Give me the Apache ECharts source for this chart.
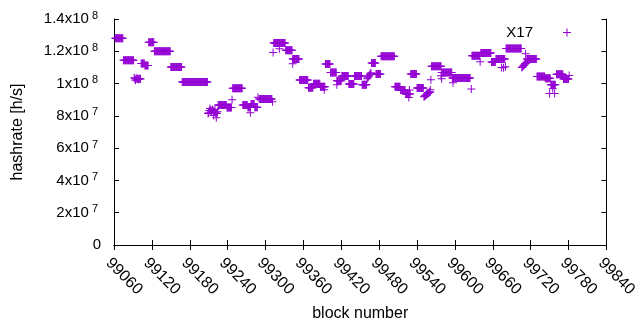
<!DOCTYPE html>
<html><head><meta charset="utf-8">
<script src="https://cdn.jsdelivr.net/npm/echarts@6/dist/echarts.min.js"></script>
<style>html,body{margin:0;padding:0;background:#fff}#c{width:640px;height:330px}</style>
</head><body><div id="c"></div>
<script>
const seriesName = 'X17';
const xMin = 99060, xMax = 99840, xStep = 60;
const yTickValues = [0, 2e7, 4e7, 6e7, 8e7, 1e8, 1.2e8, 1.4e8];
const yTickLabels = ['0', '2x10^7', '4x10^7', '6x10^7', '8x10^7', '1x10^8', '1.2x10^8', '1.4x10^8'];

// constant-difficulty runs: first block, last block, hashrate
const runStart = [99062,99075,99103,99109,99115,99124,99150,99168,99225,99239,99248,99264,99272,99277,99283,99290,99313,99332,99343,99354,99368,99376,99387,99395,99403,99413,99421,99432,99441,99453,99468,99475,99483,99505,99514,99522,99530,99540,99563,99579,99596,99627,99641,99658,99665,99681,99714,99730,99743,99752,99761,99772];
const runEnd   = [99074,99091,99108,99114,99123,99149,99167,99208,99238,99246,99263,99271,99276,99282,99287,99310,99331,99342,99353,99367,99375,99386,99394,99402,99412,99420,99431,99440,99452,99460,99474,99482,99504,99513,99521,99529,99539,99550,99578,99595,99624,99639,99657,99664,99679,99705,99729,99742,99751,99759,99771,99780];
const runValue = [1.281e8,1.145e8,1.124e8,1.112e8,1.256e8,1.200e8,1.102e8,1.010e8,8.68e7,8.51e7,9.71e7,8.68e7,8.54e7,8.74e7,8.54e7,9.05e7,1.252e8,1.207e8,1.152e8,1.022e8,9.74e7,9.99e7,9.81e7,1.121e8,1.069e8,1.018e8,1.047e8,9.97e7,1.047e8,9.93e7,1.127e8,1.059e8,1.170e8,9.81e7,9.60e7,9.36e7,1.059e8,9.73e7,1.108e8,1.069e8,1.034e8,1.172e8,1.189e8,1.133e8,1.152e8,1.218e8,1.152e8,1.044e8,1.033e8,9.93e7,1.057e8,1.028e8];

// stretches where the value changes block by block
const varStart = [99092, 99209, 99461, 99551, 99706];
const varValues = [
  [1.036e8,1.030e8,1.021e8,1.030e8,1.033e8,1.028e8,1.030e8,1.025e8,1.030e8,1.032e8,1.029e8],
  [8.14e7,8.20e7,8.33e7,8.45e7,8.33e7,8.26e7,8.33e7,8.40e7,8.33e7,8.02e7,8.26e7,8.39e7,8.20e7,7.89e7,8.14e7,8.26e7],
  [1.030e8,1.036e8,1.042e8,1.048e8,1.055e8,1.061e8,1.067e8],
  [9.19e7,9.21e7,9.26e7,9.28e7,9.30e7,9.35e7,9.38e7,9.40e7,9.45e7,9.46e7,9.50e7],
  [1.100e8,1.103e8,1.109e8,1.112e8,1.117e8,1.121e8,1.124e8,1.127e8]
];

// single scattered points
const extraBlock = [99247,99276,99288,99311,99312,99322,99343,99393,99413,99527,99528,99561,99562,99578,99579,99597,99626,99640,99674,99677,99680,99712,99750,99755,99758,99781];
const extraValue = [9.00e7,8.20e7,9.15e7,8.88e7,1.193e8,1.215e8,1.123e8,9.62e7,9.93e7,9.13e7,9.60e7,9.62e7,1.024e8,1.049e8,1.030e8,1.005e8,9.66e7,1.135e8,1.100e8,1.098e8,1.104e8,1.184e8,9.39e7,9.68e7,9.39e7,1.050e8];

const data = [];
runStart.forEach((s, i) => { for (let b = s; b <= runEnd[i]; b++) data.push([b, runValue[i]]); });
varStart.forEach((s, i) => { varValues[i].forEach((v, k) => data.push([s + k, v])); });
extraBlock.forEach((b, i) => data.push([b, extraValue[i]]));

const plus = 'path://M3.5,0h1v8h-1z M0,3.5h8v1h-8z';
const color = '#9400d3';
const font = 'Liberation Sans, Arial, sans-serif';

function yFmt(v) {
  const i = yTickValues.findIndex(t => Math.abs(t - v) < 1);
  if (i < 0) return '';
  const t = yTickLabels[i];
  if (t.indexOf('^') < 0) return '{z|' + t + '}';
  const p = t.split('^');
  return '{b|' + p[0] + '}{s|' + p[1] + '}';
}

const chart = echarts.init(document.getElementById('c'), null, {renderer: 'canvas'});
const axisLine = {show: true, lineStyle: {color: '#000', width: 1}};
const tick = {show: true, inside: true, length: 5, lineStyle: {color: '#000'}};
chart.setOption({
  animation: false,
  backgroundColor: '#fff',
  color: [color],
  grid: {left: 114, right: 31, top: 19, bottom: 85},
  legend: {
    right: 64, top: 20, orient: 'vertical', align: 'right',
    itemWidth: 58, itemHeight: 8,
    itemStyle: {color: color, borderWidth: 0},
    textStyle: {fontFamily: font, fontSize: 15, color: '#000'},
    data: [{name: seriesName, icon: plus}]
  },
  xAxis: [{
    type: 'value', min: xMin, max: xMax, interval: xStep,
    name: 'block number', nameLocation: 'middle', nameGap: 61,
    nameTextStyle: {fontFamily: font, fontSize: 16, color: '#000'},
    axisLine: axisLine, axisTick: tick, splitLine: {show: false},
    axisLabel: {rotate: -45, margin: 10, verticalAlign: 'top', showMinLabel: true, showMaxLabel: true,
      formatter: v => String(v),
      fontFamily: font, fontSize: 16, color: '#000'}
  }, {
    type: 'value', position: 'top', min: xMin, max: xMax, interval: xStep,
    axisLine: axisLine, axisTick: tick, splitLine: {show: false}, axisLabel: {show: false}
  }],
  yAxis: [{
    type: 'value', min: 0, max: 1.4e8, interval: 2e7,
    name: 'hashrate [h/s]', nameLocation: 'middle', nameGap: 88, nameRotate: 90,
    nameTextStyle: {fontFamily: font, fontSize: 16, color: '#000'},
    axisLine: axisLine, axisTick: tick, splitLine: {show: false},
    axisLabel: {margin: 13, formatter: yFmt, showMinLabel: true, showMaxLabel: true,
      rich: {
        z: {fontFamily: font, fontSize: 15, color: '#000'},
        b: {fontFamily: font, fontSize: 15, color: '#000', lineHeight: 18},
        s: {fontFamily: font, fontSize: 11, color: '#000', verticalAlign: 'top', lineHeight: 11, padding: [0, 3, 0, 3]}
      }}
  }, {
    type: 'value', position: 'right', min: 0, max: 1.4e8, interval: 2e7,
    axisLine: axisLine, axisTick: tick, splitLine: {show: false}, axisLabel: {show: false}
  }],
  series: [{
    name: seriesName, type: 'scatter', data: data,
    symbol: plus, symbolSize: 8,
    itemStyle: {color: color, opacity: 1},
    emphasis: {disabled: true}, large: false
  }]
});
</script></body></html>
